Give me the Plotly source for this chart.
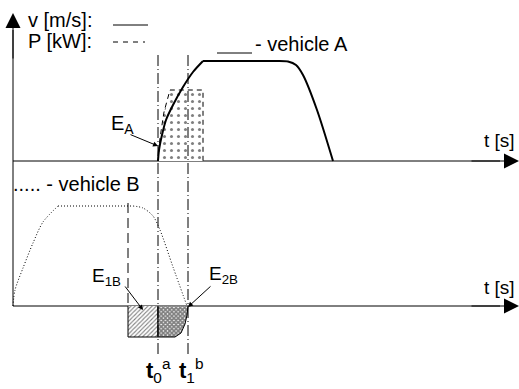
import plotly.graph_objects as go

# schematic coordinates: x = time position, y = screen-down value
va_rise_t = [158, 159, 162, 166, 173, 183, 193, 203]
va_rise_y = [161, 150, 135, 120, 105, 87, 72, 61]
va_flat_t = [203, 277]
va_flat_y = [61, 61]
va_fall_t = [277, 288, 296, 303, 317, 333]
va_fall_y = [61, 61.5, 65, 75, 110, 161]

pa_t = [158, 160, 164, 170, 203, 203]
pa_y = [161, 138, 112, 90, 90, 161]

vb_rise_t = [13, 15, 23, 33, 43, 58]
vb_rise_y = [306, 290, 268, 243, 222, 206]
vb_flat_t = [58, 133]
vb_flat_y = [206, 206]
vb_fall_t = [133, 143, 153, 160, 173, 187]
vb_fall_y = [206, 208, 216, 230, 267, 306]

e1b_t = [128, 128, 158, 158]
e1b_y = [306, 337, 337, 306]
e2b_t = [158, 158, 175, 181, 185, 187, 188]
e2b_y = [306, 337, 337, 333, 324, 315, 306]

t0, t1 = 158, 188
tb_start = 128
axis_top, axis_bot = 161, 306

FONT = "Arial, Liberation Sans, sans-serif"

fig = go.Figure()

def line(x, y, width=1, dash="solid", shape="linear"):
    fig.add_trace(go.Scatter(x=x, y=y, mode="lines", hoverinfo="skip",
                             line=dict(color="black", width=width, dash=dash, shape=shape,
                                       smoothing=0.8)))

# axes
line([13, 13], [30, axis_bot])
line([13, 500], [axis_top, axis_top])
line([13, 500], [axis_bot, axis_bot])

# power of vehicle A
fig.add_trace(go.Scatter(x=pa_t, y=pa_y, mode="lines", fill="toself", hoverinfo="skip",
                         fillcolor="white",
                         fillpattern=dict(shape=".", fgcolor="black", bgcolor="white",
                                          size=7, solidity=0.15),
                         line=dict(color="black", width=1, dash="5px,4px")))

# E1B / E2B areas
fig.add_trace(go.Scatter(x=e1b_t, y=e1b_y, mode="lines", fill="toself", hoverinfo="skip",
                         fillpattern=dict(shape="/", fgcolor="black", bgcolor="white",
                                          size=3, solidity=0.35),
                         line=dict(color="black", width=1)))
fig.add_trace(go.Scatter(x=e2b_t, y=e2b_y, mode="lines", fill="toself", hoverinfo="skip",
                         fillpattern=dict(shape="x", fgcolor="black", bgcolor="white",
                                          size=3, solidity=0.8),
                         line=dict(color="black", width=1)))

# t0 / t1 markers
line([t0, t0], [55, 357], dash="11px,3px,1px,3px")
line([t1, t1], [55, 357], dash="11px,3px,1px,3px")
line([tb_start, tb_start], [203, axis_bot], dash="10px,5px")

# speed curves
line(va_rise_t, va_rise_y, width=2, shape="spline")
line(va_flat_t, va_flat_y, width=2)
line(va_fall_t, va_fall_y, width=2, shape="spline")
line(vb_rise_t, vb_rise_y, dash="1px,2px", shape="spline")
line(vb_flat_t, vb_flat_y, dash="1px,2px")
line(vb_fall_t, vb_fall_y, dash="1px,2px", shape="spline")

# legend samples
line([113, 148], [25, 25])
line([113, 145], [42, 42], dash="5px,5px")
line([217, 252], [53, 53])

ann = []
def text(x, y, s, size=20, xanchor="left"):
    ann.append(dict(x=x, y=y, text=s, showarrow=False, xanchor=xanchor, yanchor="middle",
                    font=dict(family=FONT, size=size, color="black")))

def arrow(x, y, ax, ay, head=2, size=1.0, width=1):
    ann.append(dict(x=x, y=y, ax=ax, ay=ay, xref="x", yref="y", axref="x", ayref="y",
                    text="", showarrow=True, arrowhead=head, arrowsize=size,
                    arrowwidth=width, arrowcolor="black"))

arrow(13, 13, 13, 60, size=3)
arrow(519, axis_top, 470, axis_top, size=3)
arrow(519, axis_bot, 470, axis_bot, size=3)

text(26, 20, "v [m/s]:")
text(26, 41, "P [kW]:")
text(253, 44, "- vehicle A")
text(482, 140, "t [s]", size=19)
text(482, 287, "t [s]", size=19)
text(11, 184, "..... - vehicle B")
text(109, 124, "E<sub>A</sub>", size=20)
text(90, 277, "E<sub>1B</sub>", size=19)
text(207, 275, "E<sub>2B</sub>", size=19)
text(144, 370, "<b>t</b><sub>0</sub><sup>a</sup>", size=22)
text(177, 370, "<b>t</b><sub>1</sub><sup>b</sup>", size=22)

arrow(158, 146, 129, 134)
arrow(143, 310, 124, 285)
arrow(188, 307, 212, 285)

fig.update_layout(width=519, height=389, margin=dict(l=0, r=0, t=0, b=0),
                  plot_bgcolor="white", paper_bgcolor="white", showlegend=False,
                  annotations=ann,
                  xaxis=dict(range=[0, 519], visible=False, fixedrange=True),
                  yaxis=dict(range=[389, 0], visible=False, fixedrange=True))

fig.write_html("out.html", config=dict(displayModeBar=False),
               post_script="document.body.style.margin='0';")
